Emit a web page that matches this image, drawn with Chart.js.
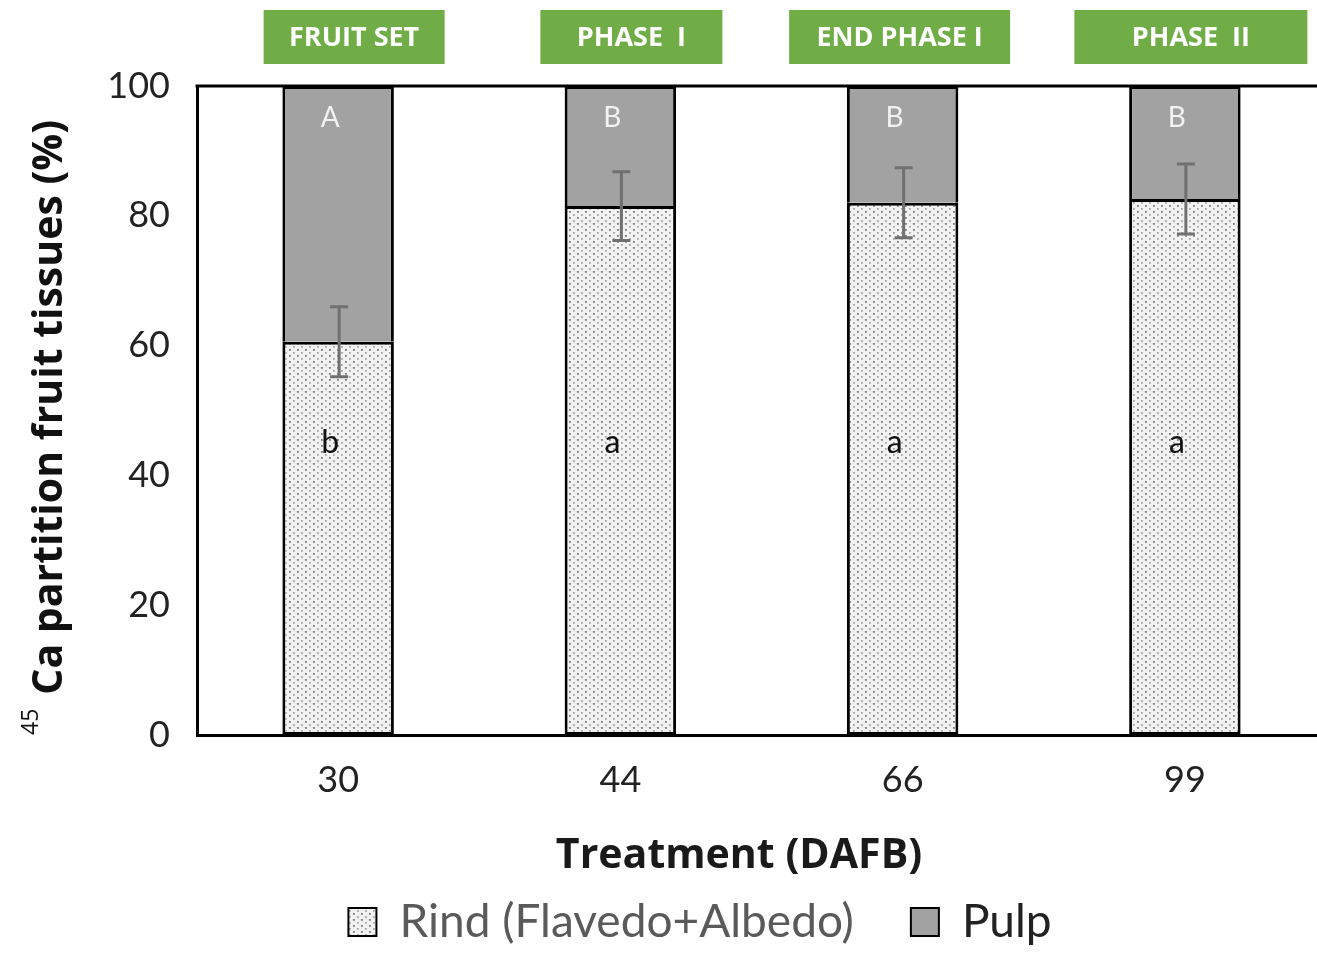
<!DOCTYPE html>
<html>
<head>
<meta charset="utf-8">
<script src="https://cdn.jsdelivr.net/npm/chart.js@4/dist/chart.umd.min.js"></script>
<style>
  html, body { margin: 0; padding: 0; background: #fff; overflow: hidden; }
  #wrap { width: 1326px; height: 955px; }
</style>
</head>
<body>
<div id="wrap"><canvas id="c"></canvas></div>
<script>
// values
var days = ['30', '44', '66', '99'];
var phases = ['FRUIT SET', 'PHASE  I', 'END PHASE I', 'PHASE  II'];
var rind = [60.6, 81.5, 82.0, 82.6];
var pulp = [39.4, 18.5, 18.0, 17.4];
var rindErr = [5.4, 5.3, 5.4, 5.4];
var pulpLetters = ['A', 'B', 'B', 'B'];
var rindLetters = ['b', 'a', 'a', 'a'];
var yTicks = [0, 20, 40, 60, 80, 100];

// dotted fill for the rind segments
function rindPattern() {
    var c = document.createElement('canvas');
    c.width = 8; c.height = 6;
    var g = c.getContext('2d');
    g.fillStyle = '#f2f2f2';
    g.fillRect(0, 0, 8, 6);
    g.fillStyle = '#7a7a7a';
    g.fillRect(1, 1, 1.8, 1.8);
    g.fillStyle = '#a8a8a8';
    g.fillRect(5, 4, 1.8, 1.8);
    return g.createPattern(c, 'repeat');
}
var dots = rindPattern();

// error bars, letters, phase boxes, top line, axis titles
var decor = {
    id: 'decor',
    afterDatasetsDraw: function (chart) {
        var ctx = chart.ctx, x = chart.scales.x, y = chart.scales.y;
        ctx.save();
        ctx.strokeStyle = '#707070';
        ctx.lineWidth = 3;
        for (var i = 0; i < rind.length; i++) {
            var cx = x.getPixelForValue(i) + 1;
            var hi = y.getPixelForValue(rind[i] + rindErr[i]);
            var lo = y.getPixelForValue(rind[i] - rindErr[i]);
            ctx.beginPath();
            ctx.moveTo(cx, hi); ctx.lineTo(cx, lo);
            ctx.moveTo(cx - 9, hi); ctx.lineTo(cx + 9, hi);
            ctx.moveTo(cx - 9, lo); ctx.lineTo(cx + 9, lo);
            ctx.stroke();
        }
        ctx.textAlign = 'center';
        ctx.textBaseline = 'middle';
        for (var j = 0; j < days.length; j++) {
            var px = x.getPixelForValue(j) - 8;
            ctx.fillStyle = '#f2f2f2';
            ctx.font = '28px Lato';
            ctx.fillText(pulpLetters[j], px, y.getPixelForValue(95));
            ctx.fillStyle = '#111';
            ctx.font = '32px Lato';
            ctx.fillText(rindLetters[j], px, y.getPixelForValue(45));
        }
        ctx.restore();
    },
    afterDraw: function (chart, args, opts) {
        var ctx = chart.ctx, a = chart.chartArea, x = chart.scales.x;
        ctx.save();
        // top frame line
        ctx.strokeStyle = '#000';
        ctx.lineWidth = 3;
        ctx.beginPath();
        ctx.moveTo(a.left - 1.5, a.top);
        ctx.lineTo(a.right, a.top);
        ctx.stroke();
        // green phase boxes
        ctx.font = 'bold 27px "Open Sans"';
        ctx.textAlign = 'center';
        ctx.textBaseline = 'middle';
        for (var i = 0; i < phases.length; i++) {
            var cx = x.getPixelForValue(i) + opts.boxShift[i];
            var w = opts.boxWidth[i];
            ctx.fillStyle = '#70ad47';
            ctx.fillRect(cx - w / 2, 10, w, 54);
            ctx.fillStyle = '#fff';
            ctx.fillText(phases[i], cx, 38);
        }
        // x title
        var xt = 'Treatment (DAFB)';
        ctx.font = 'bold 36px "Open Sans"';
        var xs = 36 * 366 / ctx.measureText(xt).width;
        ctx.font = 'bold ' + xs.toFixed(1) + 'px "Open Sans"';
        ctx.fillStyle = '#1a1a1a';
        ctx.fillText(xt, 739, 856);
        // y title with superscript 45
        var main = 'Ca partition fruit tissues (%)';
        ctx.translate(62, 735);
        ctx.rotate(-Math.PI / 2);
        ctx.textAlign = 'left';
        ctx.textBaseline = 'alphabetic';
        ctx.fillStyle = '#111';
        ctx.font = '23px "Open Sans"';
        ctx.fillText('45', 0, -24);
        var sup = ctx.measureText('45').width + 6;
        ctx.font = 'bold 36px "Open Sans"';
        var size = 36 * 575 / ctx.measureText(main).width;
        ctx.font = 'bold ' + size.toFixed(1) + 'px "Open Sans"';
        ctx.fillText(main, sup + 8, 0);
        ctx.restore();
    }
};

var chart = new Chart(document.getElementById('c'), {
    type: 'bar',
    data: {
        labels: days,
        datasets: [
            {
                label: 'Rind (Flavedo+Albedo)',
                data: rind,
                backgroundColor: dots,
                borderColor: '#000',
                borderWidth: 3,
                borderSkipped: false,
                barPercentage: 0.395,
                categoryPercentage: 1
            },
            {
                label: 'Pulp',
                data: pulp,
                backgroundColor: '#a2a2a2',
                borderColor: '#000',
                borderWidth: 3,
                borderSkipped: 'bottom',
                barPercentage: 0.395,
                categoryPercentage: 1
            }
        ]
    },
    options: {
        responsive: true,
        maintainAspectRatio: false,
        animation: false,
        layout: { padding: { left: 74, top: 86, right: 0, bottom: 0 } },
        plugins: {
            tooltip: { enabled: false },
            legend: {
                position: 'bottom',
                labels: {
                    boxWidth: 28,
                    boxHeight: 28,
                    padding: 57,
                    font: { family: 'Lato', size: 46 },
                    generateLabels: function (c) {
                        var colors = ['#5a5a5a', '#222'];
                        return c.data.datasets.map(function (ds, i) {
                            return {
                                text: ds.label,
                                fillStyle: ds.backgroundColor,
                                strokeStyle: '#000',
                                lineWidth: 2,
                                fontColor: colors[i],
                                datasetIndex: i,
                                hidden: false
                            };
                        });
                    }
                }
            },
            decor: {
                boxWidth: [181, 182, 221, 233],
                boxShift: [16, 11, -3, 6]
            }
        },
        scales: {
            x: {
                stacked: true,
                grid: { display: false },
                border: { display: true, color: '#000', width: 3 },
                ticks: { color: '#222', font: { family: 'Lato', size: 36 }, padding: 16 },
                afterFit: function (s) {
                    var lh = s.chart.legend ? s.chart.legend.height : 0;
                    s.height = s.chart.height - 735 - lh;
                }
            },
            y: {
                stacked: true,
                min: 0,
                max: 100,
                afterBuildTicks: function (s) {
                    s.ticks = yTicks.map(function (v) { return { value: v }; });
                },
                grid: { display: false, drawTicks: false },
                border: { display: true, color: '#000', width: 3 },
                ticks: { color: '#222', font: { family: 'Lato', size: 36 }, padding: 27 },
                afterFit: function (s) { s.width = 123; }
            }
        }
    },
    plugins: [decor]
});
</script>
</body>
</html>
